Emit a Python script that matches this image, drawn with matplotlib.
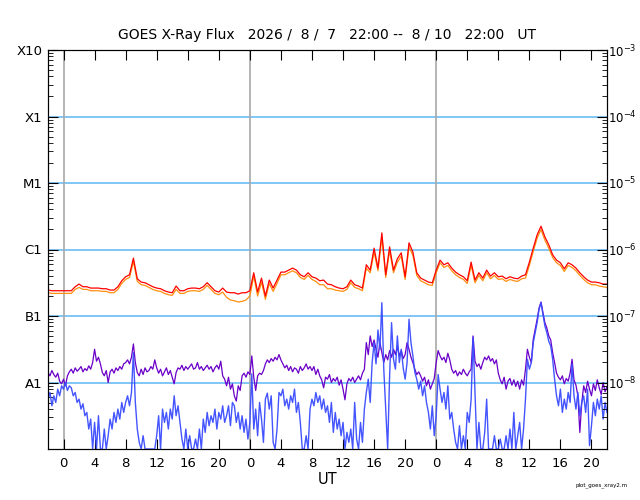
import matplotlib
matplotlib.use('Agg')
import matplotlib.pyplot as plt
import numpy as np

# GOES X-ray flux, hours counted from 2026-08-07 22:00 UT
title = 'GOES X-Ray Flux   2026 /  8 /  7   22:00 --  8 / 10   22:00   UT'

xtick_hours = [2, 6, 10, 14, 18, 22, 26, 30, 34, 38, 42, 46, 50, 54, 58, 62, 66, 70]
xtick_labels = ['0', '4', '8', '12', '16', '20'] * 3
day_lines = [2, 26, 50]

flare_levels = [1e-3, 1e-4, 1e-5, 1e-6, 1e-7, 1e-8]
flare_labels = ['X10', 'X1', 'M1', 'C1', 'B1', 'A1']

# log10 of flux (W/m^2), long channel, every 30 min
long_a_log = [
    -6.61, -6.62, -6.62, -6.62, -6.62, -6.62, -6.62, -6.56, -6.52, -6.56,
    -6.56, -6.58, -6.58, -6.58, -6.59, -6.59, -6.61, -6.61, -6.56, -6.47,
    -6.41, -6.38, -6.13, -6.44, -6.49, -6.50, -6.53, -6.56, -6.58, -6.59,
    -6.62, -6.64, -6.65, -6.55, -6.62, -6.62, -6.59, -6.58, -6.58, -6.59,
    -6.56, -6.50, -6.56, -6.62, -6.64, -6.58, -6.64, -6.65, -6.65, -6.67,
    -6.65, -6.65, -6.62, -6.35, -6.64, -6.43, -6.70, -6.46, -6.58, -6.46,
    -6.34, -6.34, -6.31, -6.28, -6.31, -6.38, -6.41, -6.35, -6.41, -6.43,
    -6.47, -6.46, -6.52, -6.53, -6.56, -6.58, -6.59, -6.56, -6.46, -6.53,
    -6.55, -6.58, -6.23, -6.31, -5.98, -6.28, -5.75, -6.38, -5.96, -6.31,
    -6.14, -6.05, -6.41, -5.90, -6.04, -6.35, -6.43, -6.46, -6.49, -6.50,
    -6.31, -6.16, -6.23, -6.20, -6.28, -6.34, -6.38, -6.41, -6.47, -6.19,
    -6.46, -6.35, -6.43, -6.31, -6.40, -6.35, -6.41, -6.40, -6.44, -6.41,
    -6.43, -6.44, -6.40, -6.38, -6.19, -5.98, -5.78, -5.65, -5.81, -5.93,
    -6.08, -6.16, -6.20, -6.29, -6.20, -6.23, -6.28, -6.35, -6.41, -6.46,
    -6.49, -6.49, -6.50, -6.52, -6.52,
]
long_b_log = [
    -6.65, -6.66, -6.66, -6.66, -6.66, -6.66, -6.66, -6.60, -6.57, -6.60,
    -6.60, -6.62, -6.62, -6.62, -6.63, -6.63, -6.65, -6.65, -6.60, -6.51,
    -6.45, -6.42, -6.18, -6.48, -6.53, -6.54, -6.57, -6.60, -6.62, -6.63,
    -6.66, -6.68, -6.69, -6.60, -6.66, -6.66, -6.63, -6.62, -6.62, -6.63,
    -6.60, -6.54, -6.60, -6.66, -6.68, -6.64, -6.72, -6.76, -6.77, -6.79,
    -6.78, -6.76, -6.70, -6.40, -6.70, -6.49, -6.75, -6.51, -6.63, -6.51,
    -6.38, -6.38, -6.35, -6.32, -6.35, -6.42, -6.45, -6.39, -6.45, -6.48,
    -6.53, -6.53, -6.59, -6.59, -6.61, -6.62, -6.63, -6.60, -6.50, -6.57,
    -6.59, -6.62, -6.28, -6.35, -6.04, -6.32, -5.82, -6.42, -6.02, -6.35,
    -6.19, -6.10, -6.45, -5.96, -6.09, -6.39, -6.47, -6.50, -6.53, -6.54,
    -6.35, -6.20, -6.27, -6.24, -6.32, -6.38, -6.42, -6.45, -6.51, -6.24,
    -6.50, -6.39, -6.47, -6.35, -6.44, -6.39, -6.45, -6.44, -6.48, -6.45,
    -6.47, -6.48, -6.44, -6.43, -6.24, -6.03, -5.83, -5.70, -5.86, -5.98,
    -6.12, -6.20, -6.24, -6.33, -6.24, -6.27, -6.32, -6.39, -6.45, -6.50,
    -6.53, -6.53, -6.55, -6.56, -6.57,
]

# log10 of flux, short channel, every 15 min (one row per hour)
short_a_log = [
    -7.85, -7.90, -7.82, -7.88,
    -7.92, -7.86, -7.98, -8.02,
    -7.95, -8.05, -7.90, -7.84,
    -7.80, -7.86, -7.78, -7.83,
    -7.80, -7.76, -7.84, -7.79,
    -7.82, -7.75, -7.80, -7.70,
    -7.50, -7.68, -7.62, -7.72,
    -7.85, -7.90, -7.82, -8.00,
    -7.84, -7.80, -7.86, -7.78,
    -7.82, -7.76, -7.80, -7.72,
    -7.70, -7.66, -7.72, -7.62,
    -7.42, -7.70, -7.85, -7.90,
    -7.80, -7.88, -7.78, -7.84,
    -7.82, -7.76, -7.80, -7.66,
    -7.78, -7.86, -7.80, -7.90,
    -7.84, -7.78, -7.88, -7.82,
    -7.92, -8.02, -7.85, -7.78,
    -7.80, -7.74, -7.82, -7.76,
    -7.80, -7.76, -7.72, -7.80,
    -7.78, -7.70, -7.80, -7.76,
    -7.82, -7.78, -7.74, -7.80,
    -7.76, -7.84, -7.78, -7.74,
    -7.80, -7.68, -7.90, -7.95,
    -8.05, -7.92, -8.10, -8.02,
    -8.20, -8.28, -8.05, -8.12,
    -7.90, -7.86, -7.92, -7.84,
    -7.88, -7.60, -7.92, -8.12,
    -7.90, -7.86, -7.88, -7.82,
    -7.72, -7.66, -7.70, -7.64,
    -7.68, -7.62, -7.66, -7.58,
    -7.66, -7.72, -7.78, -7.74,
    -7.82, -7.76, -7.84, -7.78,
    -7.80, -7.86, -7.76, -7.82,
    -7.78, -7.72, -7.80, -7.76,
    -7.82, -7.76, -7.88, -7.80,
    -7.90, -7.96, -8.08, -7.92,
    -7.95, -7.88, -8.00, -7.94,
    -7.98, -7.92, -8.04, -7.96,
    -8.10, -8.26, -8.02, -7.94,
    -7.98, -7.92, -8.00, -7.95,
    -7.90, -7.96, -7.86, -7.80,
    -7.40, -7.58, -7.30, -7.46,
    -7.36, -7.50, -7.62, -7.40,
    -7.55, -7.70, -7.58, -7.66,
    -7.52, -7.62, -7.50, -7.58,
    -7.46, -7.60, -7.52, -7.64,
    -7.58, -7.40, -7.50, -7.62,
    -7.70, -7.80, -7.88, -7.84,
    -7.90, -7.98, -7.92, -8.05,
    -7.96, -8.10, -8.02, -7.94,
    -7.70, -7.52, -7.60, -7.66,
    -7.62, -7.70, -7.56, -7.66,
    -7.80, -7.86, -7.82, -7.90,
    -7.84, -7.88, -7.80, -7.86,
    -7.90, -7.84, -7.80, -7.30,
    -7.68, -7.76, -7.72, -7.80,
    -7.70, -7.62, -7.66, -7.60,
    -7.68, -7.64, -7.72, -7.66,
    -7.86, -7.96, -8.02, -7.92,
    -8.10, -7.98, -7.94, -8.04,
    -7.96, -8.06, -7.98, -8.10,
    -7.96, -8.04, -7.80, -7.50,
    -7.62, -7.70, -7.35, -7.20,
    -7.05, -6.88, -6.79, -6.95,
    -7.10, -7.18, -7.30, -7.36,
    -7.55, -7.70, -7.86, -7.92,
    -7.96, -7.90, -8.02, -7.94,
    -7.98, -7.86, -7.65, -7.96,
    -8.04, -8.20, -8.75, -8.30,
    -8.05, -8.15, -7.98, -8.10,
    -8.20, -8.02, -8.12, -7.96,
    -8.08, -8.18, -8.00, -8.14,
    -8.06,
]
short_b_log = [
    -8.25, -8.15, -8.35, -8.20,
    -8.30, -8.10, -8.20, -8.05,
    -8.10, -8.00, -8.12, -8.05,
    -8.08, -8.20, -8.15, -8.30,
    -8.25, -8.40, -8.32, -8.50,
    -8.45, -8.70, -8.55, -9.00,
    -8.60, -9.00, -8.50, -9.00,
    -9.00, -8.70, -9.00, -8.80,
    -8.55, -8.70, -8.45, -8.60,
    -8.40, -8.55, -8.30, -8.45,
    -8.30, -8.20, -8.35, -8.15,
    -7.55, -8.30, -8.70, -8.90,
    -9.00, -8.80, -9.00, -9.00,
    -9.00, -9.00, -9.00, -9.00,
    -8.80, -8.50, -9.00, -8.40,
    -8.60, -8.45, -8.70, -8.40,
    -8.55, -8.20, -8.50, -8.35,
    -8.60, -8.85, -9.00, -8.70,
    -9.00, -8.80, -9.00, -9.00,
    -8.85, -9.00, -8.70, -9.00,
    -8.55, -8.75, -8.45, -8.65,
    -8.50, -8.60, -8.40, -8.70,
    -8.45, -8.55, -8.35, -8.60,
    -8.50, -8.35, -8.65, -8.30,
    -8.35, -8.60, -8.45, -8.70,
    -8.50, -8.75, -8.55, -8.85,
    -8.60, -7.87, -8.70, -8.40,
    -8.80, -8.30, -8.55, -8.90,
    -8.25, -8.16, -8.40, -8.20,
    -8.90, -9.00, -8.70, -8.15,
    -8.20, -8.10, -8.35, -8.25,
    -8.40, -8.20, -8.30, -8.10,
    -8.45, -8.30, -8.60, -9.00,
    -9.00, -8.80, -9.00, -8.40,
    -8.25, -8.35, -8.15, -8.30,
    -8.20, -8.40, -8.25, -8.45,
    -8.35, -8.60, -8.30, -8.75,
    -8.45, -8.70, -8.55, -8.80,
    -8.60, -9.00, -8.75, -8.90,
    -8.70, -9.00, -8.30, -8.85,
    -9.00, -8.60, -8.90, -8.40,
    -8.15, -7.95, -8.30, -7.70,
    -7.40, -7.72, -7.21, -7.50,
    -6.80, -7.80, -8.40, -9.00,
    -7.90, -7.10, -7.65, -7.80,
    -7.30, -7.70, -7.50, -7.78,
    -7.95, -7.70, -7.05, -7.40,
    -7.60, -7.85, -7.95, -8.10,
    -7.98, -8.20, -8.05, -8.30,
    -8.45, -8.70, -8.35, -8.80,
    -8.50, -7.88, -8.10, -8.30,
    -8.15, -8.40, -8.05, -8.55,
    -8.45, -8.70, -8.90, -9.00,
    -8.65, -9.00, -8.80, -9.00,
    -8.45, -8.60, -8.25, -7.32,
    -8.15, -9.00, -8.60, -9.00,
    -9.00, -8.75, -8.25, -9.00,
    -9.00, -9.00, -8.80, -9.00,
    -9.00, -8.85, -9.00, -9.00,
    -8.80, -9.00, -8.70, -9.00,
    -8.45, -9.00, -8.80, -8.60,
    -9.00, -8.70, -8.25, -7.65,
    -7.80, -7.70, -7.40, -7.25,
    -7.10, -6.90, -6.80, -6.98,
    -7.15, -7.25, -7.38, -7.45,
    -7.65, -7.95, -8.20, -8.35,
    -8.10, -8.45, -8.25, -8.40,
    -8.15, -8.30, -7.72, -8.20,
    -8.40, -8.15, -8.50, -8.30,
    -8.20, -8.45, -8.10, -8.95,
    -8.65, -8.30, -8.50, -8.25,
    -8.40, -8.20, -8.55, -8.30,
    -8.45,
]

long_a = 10.0 ** np.array(long_a_log)
long_b = 10.0 ** np.array(long_b_log)
short_a = 10.0 ** np.array(short_a_log)
short_b = 10.0 ** np.array(short_b_log)
t_long = np.arange(len(long_a)) * 0.5
t_short = np.arange(len(short_a)) * 0.25

fig = plt.figure(figsize=(6.4, 5), dpi=100)
ax = fig.add_axes([48 / 640, 51 / 500, 559 / 640, 399 / 500])

for lv in flare_levels[1:]:
    ax.axhline(lv, color='#5cb6f2', lw=1.1, zorder=1)
for d in day_lines:
    ax.axvline(d, color='#a8a8a8', lw=1.2, zorder=1)

ax.plot(t_long, long_b, color='#ff9010', lw=0.9, zorder=3)
ax.plot(t_long, long_a, color='#ff0000', lw=0.9, zorder=4)
ax.plot(t_short, short_a, color='#6a00c8', lw=0.9, zorder=3)
ax.plot(t_short, short_b, color='#3a4cff', lw=1.0, alpha=0.95, zorder=4)

ax.set_yscale('log')
ax.set_ylim(1e-9, 1e-3)
ax.set_xlim(0, 72)
ax.set_yticks(flare_levels, flare_labels)
ax.set_xticks(xtick_hours, xtick_labels)
ax.tick_params(axis='x', direction='in', length=7, top=True, labelsize=9.5, pad=6)
ax.tick_params(axis='y', which='major', direction='in', length=7, labelsize=9.5, pad=4)
ax.tick_params(axis='y', which='minor', direction='in', length=3.5)

ax2 = ax.twinx()
ax2.set_yscale('log')
ax2.set_ylim(1e-9, 1e-3)
ax2.set_yticks(flare_levels)
ax2.tick_params(axis='y', which='major', direction='in', length=7, labelsize=8.5, pad=1)
ax2.tick_params(axis='y', which='minor', direction='in', length=3.5)

ax.set_title(title, fontsize=10, pad=8)
ax.set_xlabel('UT', fontsize=10.5, labelpad=1)
fig.text(0.98, 0.03, 'plot_goes_xray2.m', fontsize=4, ha='right', va='center')

fig.savefig('out.png', dpi=100)
